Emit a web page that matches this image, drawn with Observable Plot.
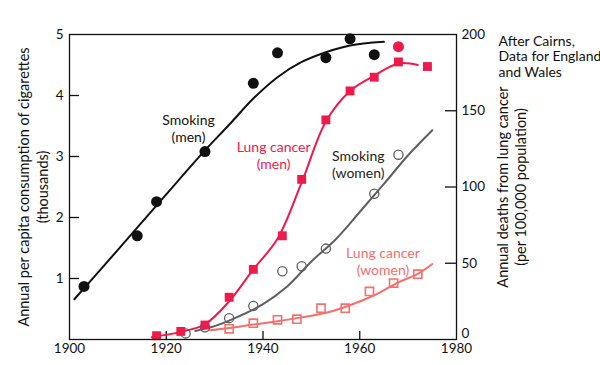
<!DOCTYPE html>
<html>
<head>
<meta charset="utf-8">
<script src="https://cdn.jsdelivr.net/npm/d3@7"></script>
<script src="https://cdn.jsdelivr.net/npm/@observablehq/plot@0.6"></script>
<style>
  html, body { margin: 0; padding: 0; background: #fff; }
  #chart svg { display: block; }
</style>
</head>
<body>
<div id="chart"></div>
<script>
// ---- Data ----
// Cigarette consumption, men (thousands per capita) — left axis
const smokingMenYears  = [1903, 1914, 1918, 1928, 1938, 1943, 1953, 1958, 1963];
const smokingMenValues = [0.87, 1.70, 2.26, 3.08, 4.20, 4.70, 4.62, 4.93, 4.67];
const smokingMenCurveYears  = [1901, 1910, 1920, 1928, 1933, 1938, 1943, 1948, 1953, 1958, 1965];
const smokingMenCurveValues = [0.66, 1.47, 2.38, 3.10, 3.52, 3.95, 4.30, 4.55, 4.71, 4.82, 4.88];
// Extra red dot
const extraRedYears  = [1968];
const extraRedValues = [4.80];

// Cigarette consumption, women (thousands per capita) — left axis
const smokingWomenYears  = [1924, 1928, 1933, 1938, 1944, 1948, 1953, 1963, 1968];
const smokingWomenValues = [0.10, 0.20, 0.35, 0.55, 1.12, 1.20, 1.49, 2.39, 3.03];
const smokingWomenCurveYears  = [1926, 1930, 1935, 1940, 1945, 1950, 1955, 1960, 1965, 1970, 1975];
const smokingWomenCurveValues = [0.14, 0.22, 0.38, 0.58, 0.87, 1.28, 1.64, 2.09, 2.55, 3.02, 3.43];

// Lung cancer deaths, men (per 100,000) — right axis
const cancerMenYears  = [1918, 1923, 1928, 1933, 1938, 1944, 1948, 1953, 1958, 1963, 1968, 1974];
const cancerMenValues = [2.5, 5.3, 9.5, 27.7, 46, 68, 105, 144, 163, 172, 182, 179];
const cancerMenCurveYears  = [1917, 1923, 1928, 1933, 1938, 1943, 1948, 1953, 1958, 1963, 1968, 1972];
const cancerMenCurveValues = [1.5, 5, 10, 25, 46, 66, 103, 143, 163, 173, 181, 180];

// Lung cancer deaths, women (per 100,000) — right axis
const cancerWomenYears  = [1933, 1938, 1943, 1947, 1952, 1957, 1962, 1967, 1972];
const cancerWomenValues = [7, 10.7, 12.9, 13.3, 20.5, 20.5, 31.5, 37, 42.8];
const cancerWomenCurveYears  = [1929, 1933, 1938, 1943, 1948, 1953, 1958, 1963, 1968, 1972, 1975];
const cancerWomenCurveValues = [6, 7.5, 9.8, 12, 14.5, 17.5, 22.5, 29, 37.5, 43, 49.5];

// Axis ticks
const xTicks = [1900, 1920, 1940, 1960, 1980];
const leftTicks = [1, 2, 3, 4, 5];
const rightTicks = [0, 50, 100, 150, 200];

// ---- Build tables ----
const RATIO = 40; // 200 deaths <-> 5 thousand cigarettes (shared vertical extent)
const zip = (xs, ys) => xs.map((x, i) => ({year: x, value: ys[i]}));
const smokingMen = zip(smokingMenYears, smokingMenValues);
const smokingMenCurve = zip(smokingMenCurveYears, smokingMenCurveValues);
const extraRed = zip(extraRedYears, extraRedValues);
const smokingWomen = zip(smokingWomenYears, smokingWomenValues);
const smokingWomenCurve = zip(smokingWomenCurveYears, smokingWomenCurveValues);
const cancerMen = zip(cancerMenYears, cancerMenValues);
const cancerMenCurve = zip(cancerMenCurveYears, cancerMenCurveValues);
const cancerWomen = zip(cancerWomenYears, cancerWomenValues);
const cancerWomenCurve = zip(cancerWomenCurveYears, cancerWomenCurveValues);

const RED = "#ed1a4b", SALMON = "#f4706b", GRAY = "#5f5f61", BLACK = "#111";

const W = 600, H = 365;
const mL = 69, mR = 144, mT = 34, mB = 26;
const plotW = W - mL - mR, plotH = H - mT - mB;
const yR = d => d.value / RATIO;

const labels = [
  {year: 1924.6, value: 3.46, text: "Smoking\n(men)", color: BLACK},
  {year: 1942.2, value: 3.03, text: "Lung cancer\n(men)", color: RED},
  {year: 1959.7, value: 2.87, text: "Smoking\n(women)", color: "#222"},
  {year: 1964.8, value: 1.29, text: "Lung cancer\n(women)", color: SALMON}
];

const chart = Plot.plot({
  width: W, height: H,
  marginLeft: mL, marginRight: mR, marginTop: mT, marginBottom: mB,
  x: {domain: [1900, 1980]},
  y: {domain: [0, 5]},
  style: {fontFamily: "Lato, 'Open Sans', sans-serif", fontSize: "13px", color: "#111", background: "#fff", overflow: "visible"},
  marks: [
    // inward ticks
    Plot.ruleX(xTicks.slice(1, -1), {x: d => d, insetTop: plotH - 8, stroke: BLACK, strokeWidth: 1.3}),
    Plot.ruleY(leftTicks.slice(0, -1), {y: d => d, insetRight: plotW - 10, stroke: BLACK, strokeWidth: 1.3}),
    Plot.ruleY(rightTicks.slice(1, -1), {y: d => d / RATIO, insetLeft: plotW - 11, stroke: BLACK, strokeWidth: 1.3}),
    // axis labels
    Plot.axisX({ticks: xTicks, tickSize: 0, tickPadding: 4, tickFormat: d => String(d), label: null, fontSize: 13.5}),
    Plot.axisY({anchor: "left", ticks: leftTicks, tickSize: 0, tickPadding: 6, tickFormat: d => String(d), label: null, fontSize: 13.5}),
    Plot.axisY({anchor: "right", ticks: rightTicks.slice(1).map(v => v / RATIO), tickFormat: d => String(Math.round(d * RATIO)), tickSize: 0, tickPadding: 5, label: null, fontSize: 13.5}),
    Plot.axisY({anchor: "right", ticks: [0], tickFormat: () => "0", tickSize: 0, tickPadding: 5, label: null, fontSize: 13.5, dy: -6}),
    // axis titles
    Plot.text(["Annual per capita consumption of cigarettes\n(thousands)"], {frameAnchor: "left", text: d => d, rotate: -90, textAnchor: "middle", lineAnchor: "middle", dx: -37, fontSize: 14.5, lineHeight: 1.3, fill: "#111"}),
    Plot.text(["Annual deaths from lung cancer\n(per 100,000 population)"], {frameAnchor: "right", text: d => d, rotate: -90, textAnchor: "middle", lineAnchor: "middle", dx: 55, fontSize: 14.5, lineHeight: 1.25, fill: "#111"}),
    Plot.text(["After Cairns,\nData for England\nand Wales"], {frameAnchor: "top-right", text: d => d, textAnchor: "start", lineAnchor: "top", dx: 42, dy: 0, fontSize: 14, lineHeight: 1.12, fill: "#111"}),
    // curves
    Plot.line(smokingMenCurve, {x: "year", y: "value", curve: "catmull-rom", stroke: BLACK, strokeWidth: 2}),
    Plot.line(smokingWomenCurve, {x: "year", y: "value", curve: "catmull-rom", stroke: GRAY, strokeWidth: 2}),
    Plot.line(cancerWomenCurve, {x: "year", y: yR, curve: "catmull-rom", stroke: SALMON, strokeWidth: 2}),
    Plot.line(cancerMenCurve, {x: "year", y: yR, curve: "catmull-rom", stroke: RED, strokeWidth: 2}),
    // points
    Plot.dot(smokingMen, {x: "year", y: "value", r: 5.5, fill: BLACK}),
    Plot.dot(extraRed, {x: "year", y: "value", r: 5.5, fill: RED}),
    Plot.dot(smokingWomen, {x: "year", y: "value", r: 4.6, fill: "none", stroke: GRAY, strokeWidth: 1.3}),
    Plot.dot(cancerWomen, {x: "year", y: yR, r: 4.6, symbol: "square", fill: "none", stroke: SALMON, strokeWidth: 1.6}),
    Plot.dot(cancerMen, {x: "year", y: yR, r: 5, symbol: "square", fill: RED}),
    // series labels
    Plot.text(labels, {x: "year", y: "value", text: "text", fill: "color", fontSize: 14, lineHeight: 1.22}),
    // frame
    Plot.frame({stroke: BLACK, strokeWidth: 1.3})
  ]
});
document.getElementById("chart").appendChild(chart);
</script>
</body>
</html>
